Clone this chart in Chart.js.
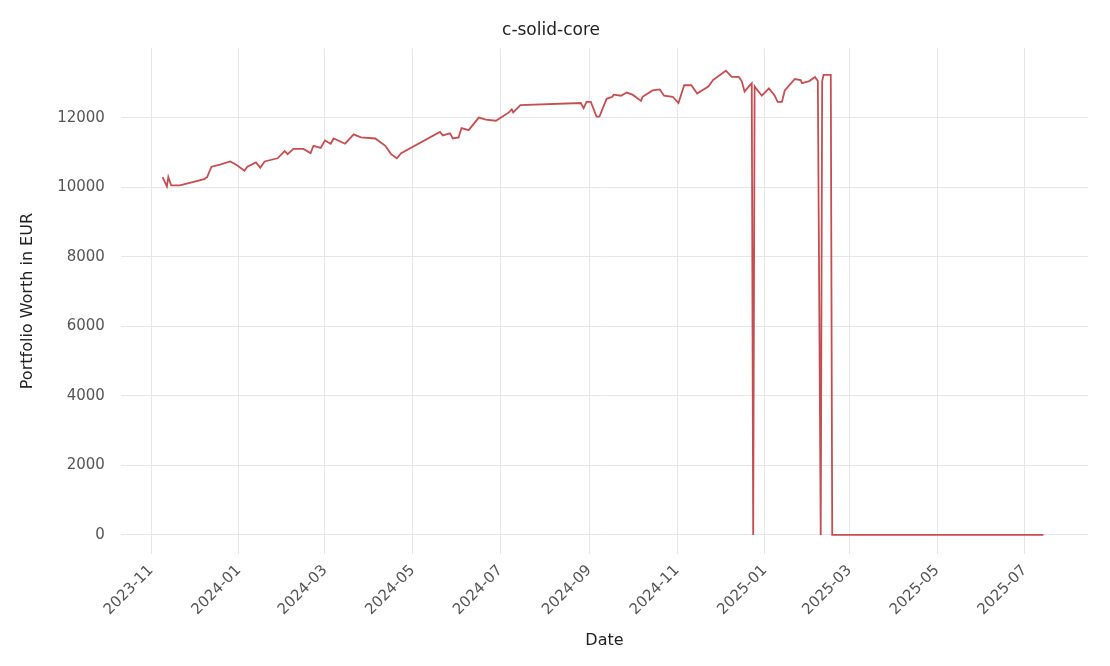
<!DOCTYPE html>
<html>
<head>
<meta charset="utf-8">
<script src="https://cdn.jsdelivr.net/npm/chart.js@4.4.0/dist/chart.umd.min.js"></script>
<style>
  html, body { margin: 0; padding: 0; background: #fff; }
  #wrap { width: 1110px; height: 666px; }
</style>
</head>
<body>
<div id="wrap"><canvas id="chart"></canvas></div>
<script>
const dates = [
  "2023-11-09","2023-11-12","2023-11-13","2023-11-15","2023-11-21","2023-12-08","2023-12-10","2023-12-13",
  "2023-12-19","2023-12-26","2023-12-30","2024-01-05","2024-01-07","2024-01-13","2024-01-16","2024-01-19",
  "2024-01-28","2024-02-02","2024-02-04","2024-02-08","2024-02-15","2024-02-20","2024-02-22","2024-02-27",
  "2024-03-01","2024-03-05","2024-03-07","2024-03-15","2024-03-21","2024-03-26","2024-04-05","2024-04-12",
  "2024-04-16","2024-04-20","2024-04-23","2024-05-20","2024-05-22","2024-05-27","2024-05-29","2024-06-02",
  "2024-06-04","2024-06-09","2024-06-16","2024-06-21","2024-06-28","2024-07-07","2024-07-09","2024-07-10",
  "2024-07-15","2024-08-26","2024-08-28","2024-08-30","2024-09-02","2024-09-06","2024-09-08","2024-09-13",
  "2024-09-17","2024-09-18","2024-09-23","2024-09-27","2024-10-01","2024-10-07","2024-10-08","2024-10-15",
  "2024-10-20","2024-10-23","2024-10-29","2024-11-02","2024-11-06","2024-11-11","2024-11-15","2024-11-23",
  "2024-11-26","2024-12-05","2024-12-09","2024-12-14","2024-12-16","2024-12-18","2024-12-21","2024-12-23",
  "2024-12-24","2024-12-25","2024-12-26","2024-12-30","2025-01-04","2025-01-08","2025-01-10","2025-01-13",
  "2025-01-15","2025-01-22","2025-01-26","2025-01-27","2025-02-01","2025-02-05","2025-02-07","2025-02-09",
  "2025-02-10","2025-02-11","2025-02-16","2025-02-17","2025-07-14"
];
const worth = [
  10290, 10020, 10290, 10050, 10050, 10230, 10290, 10590,
  10650, 10740, 10650, 10470, 10590, 10710, 10560, 10740,
  10830, 11040, 10950, 11100, 11100, 10980, 11190, 11130,
  11340, 11250, 11400, 11250, 11520, 11430, 11400, 11190,
  10950, 10830, 10980, 11590, 11490, 11550, 11400, 11430,
  11700, 11640, 12000, 11940, 11910, 12150, 12240, 12150,
  12360, 12420, 12270, 12450, 12450, 12030, 12030, 12540,
  12600, 12660, 12630, 12720, 12660, 12480, 12600, 12780,
  12810, 12630, 12600, 12420, 12930, 12930, 12690, 12900,
  13080, 13350, 13170, 13170, 13050, 12750, 12900, 12990,
  0, 12900, 12840, 12630, 12840, 12630, 12450, 12450,
  12780, 13110, 13080, 12990, 13050, 13170, 13050, 0,
  13050, 13230, 13230, 0, 0
];
const xTickLabels = ["2023-11","2024-01","2024-03","2024-05","2024-07","2024-09","2024-11","2025-01","2025-03","2025-05","2025-07"];
const yTicks = [0, 2000, 4000, 6000, 8000, 10000, 12000];

const toMs = s => {
  const p = s.split("-").map(Number);
  return Date.UTC(p[0], p[1] - 1, p[2] || 1);
};
const fmt = ms => {
  const d = new Date(ms);
  return d.getUTCFullYear() + "-" + String(d.getUTCMonth() + 1).padStart(2, "0");
};

const points = dates.map((d, i) => ({ x: toMs(d), y: worth[i] }));
const tickColor = "#555555";
const gridColor = "#e6e6e6";

new Chart(document.getElementById("chart"), {
  type: "line",
  data: {
    datasets: [{
      data: points,
      borderColor: "#c44e52",
      borderWidth: 1.8,
      pointRadius: 0,
      tension: 0,
      fill: false
    }]
  },
  options: {
    responsive: true,
    maintainAspectRatio: false,
    animation: false,
    layout: { padding: { left: 14, right: 22, top: 2, bottom: 12 } },
    plugins: {
      legend: { display: false },
      tooltip: { enabled: false },
      title: {
        display: true,
        text: "c-solid-core",
        color: "#222",
        font: { family: "DejaVu Sans", size: 17, weight: "normal" },
        padding: { top: 18, bottom: 8 }
      }
    },
    scales: {
      x: {
        type: "linear",
        min: toMs("2023-10-11"),
        max: toMs("2025-08-14"),
        afterBuildTicks: axis => { axis.ticks = xTickLabels.map(t => ({ value: toMs(t) })); },
        grid: { color: gridColor, drawTicks: false },
        border: { display: false },
        ticks: {
          color: tickColor,
          font: { family: "DejaVu Sans", size: 15 },
          maxRotation: 45, minRotation: 45,
          padding: 8,
          callback: v => fmt(v)
        },
        title: { display: true, text: "Date", color: "#222", font: { family: "DejaVu Sans", size: 16 } }
      },
      y: {
        min: -540,
        max: 13990,
        afterBuildTicks: axis => { axis.ticks = yTicks.map(v => ({ value: v })); },
        grid: { color: gridColor, drawTicks: false },
        border: { display: false },
        ticks: {
          color: tickColor,
          font: { family: "DejaVu Sans", size: 15 },
          padding: 16,
          callback: v => String(v)
        },
        title: { display: true, text: "Portfolio Worth in EUR", color: "#222", font: { family: "DejaVu Sans", size: 16 } }
      }
    }
  }
});
</script>
</body>
</html>
